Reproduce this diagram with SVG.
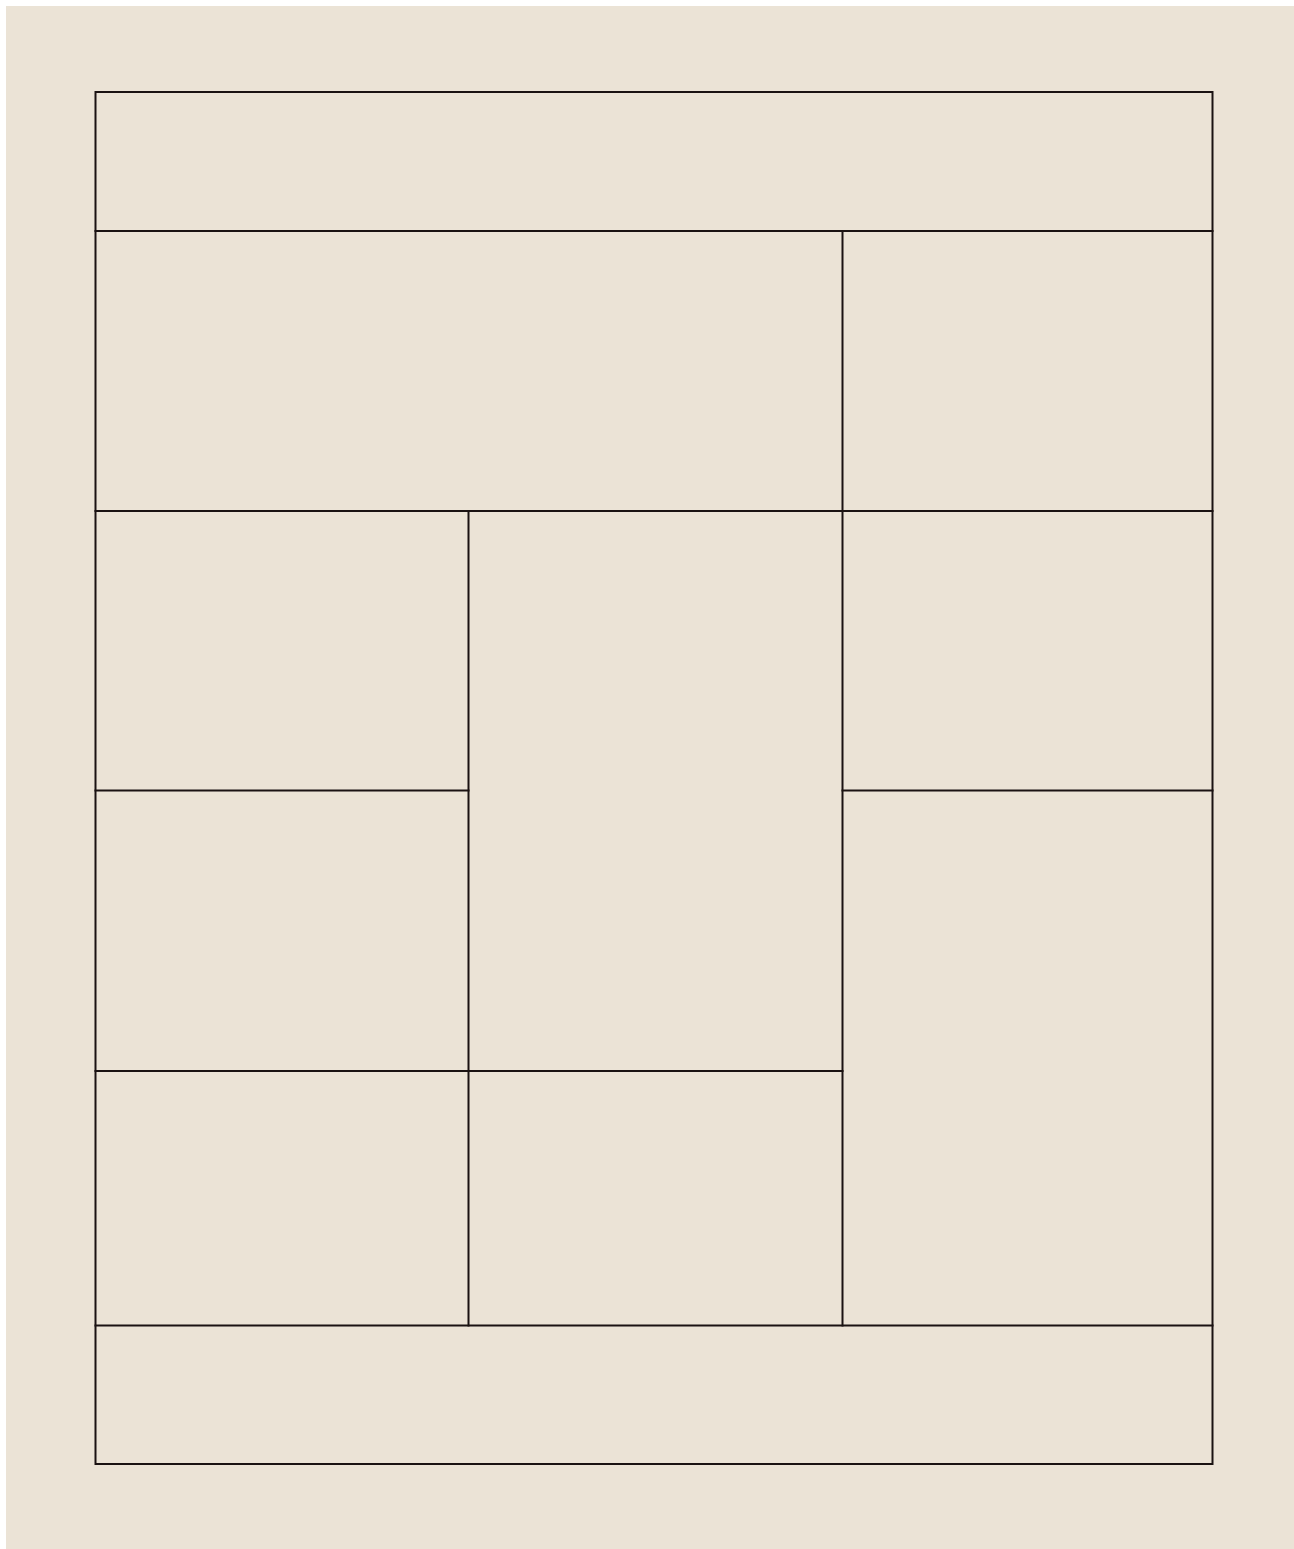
<svg xmlns="http://www.w3.org/2000/svg" width="1294" height="1549" viewBox="0 0 1294 1549">
<style>
.bd{fill:none;stroke:#1a1212;stroke-width:2;stroke-linecap:square}
</style>
<rect x="0" y="0" width="1294" height="1549" fill="#ffffff"/>
<rect x="6" y="6" width="1288" height="1543" fill="#ebe3d6"/>
<g id="plan">
<rect id="frame" class="bd" x="95.5" y="92" width="1117" height="1372"/>
<g id="walls">
<line class="bd" x1="95.5" y1="231" x2="1212.5" y2="231"/>
<line class="bd" x1="95.5" y1="511" x2="1212.5" y2="511"/>
<line class="bd" x1="95.5" y1="790.5" x2="468.5" y2="790.5"/>
<line class="bd" x1="842.5" y1="790.5" x2="1212.5" y2="790.5"/>
<line class="bd" x1="95.5" y1="1071" x2="842.5" y2="1071"/>
<line class="bd" x1="95.5" y1="1325.5" x2="1212.5" y2="1325.5"/>
<line class="bd" x1="842.5" y1="231" x2="842.5" y2="1325.5"/>
<line class="bd" x1="468.5" y1="511" x2="468.5" y2="1325.5"/>
</g>
</g>
</svg>
